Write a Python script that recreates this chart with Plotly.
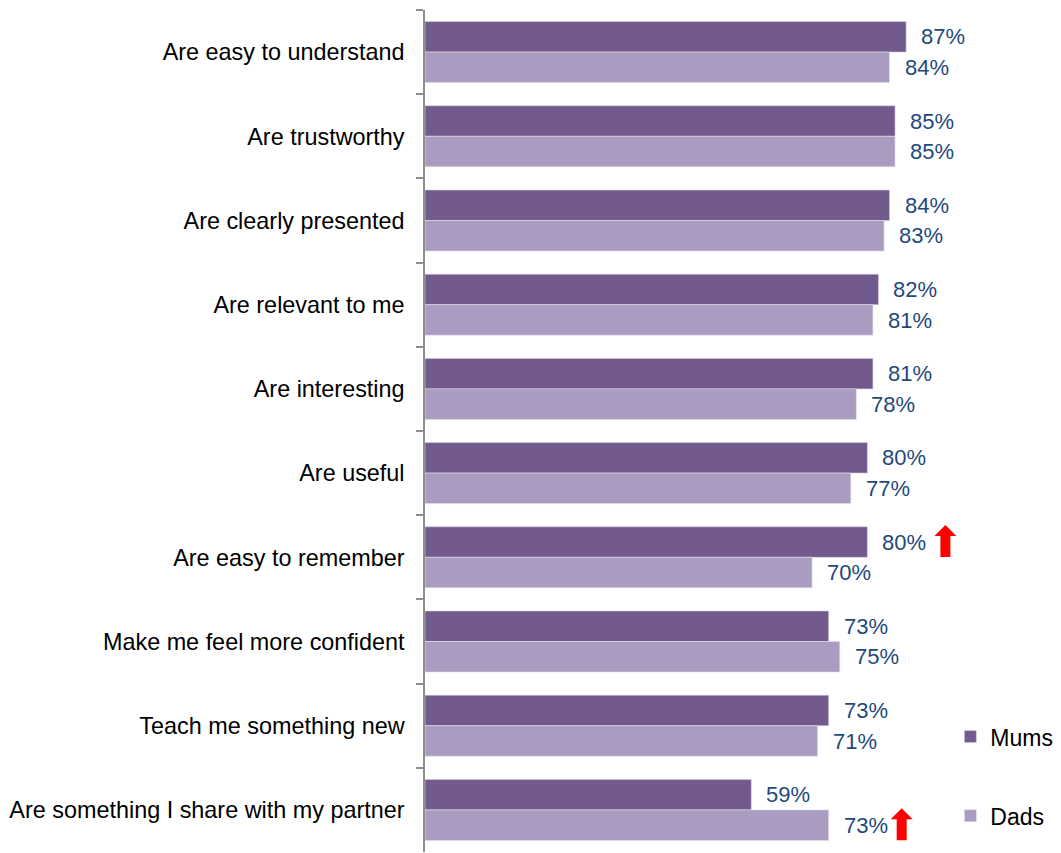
import plotly.graph_objects as go

categories = [
    "Are easy to understand",
    "Are trustworthy",
    "Are clearly presented",
    "Are relevant to me",
    "Are interesting",
    "Are useful",
    "Are easy to remember",
    "Make me feel more confident",
    "Teach me something new",
    "Are something I share with my partner",
]
mums = [87, 85, 84, 82, 81, 80, 80, 73, 73, 59]
dads = [84, 85, 83, 81, 78, 77, 70, 75, 71, 73]

# significant-difference arrows: (category, series)
arrows = [("Are easy to remember", "Mums"), ("Are something I share with my partner", "Dads")]

MUMS_COLOR = "#725A8E"
DADS_COLOR = "#AA9BC0"
LABEL_COLOR = "#1F497D"
FONT = "Liberation Sans, Arial, sans-serif"

fig = go.Figure()
fig.add_trace(go.Bar(
    y=categories, x=[v / 100 for v in mums], orientation="h", name="Mums",
    marker=dict(color=MUMS_COLOR, line=dict(color="#d8d2e2", width=0.6)),
    legend="legend", showlegend=True, hoverinfo="x+y",
))
fig.add_trace(go.Bar(
    y=categories, x=[v / 100 for v in dads], orientation="h", name="Dads",
    marker=dict(color=DADS_COLOR, line=dict(color="#e6e1ec", width=0.6)),
    legend="legend2", showlegend=True, hoverinfo="x+y",
))

BAR_SHIFT = 15.3
annotations = []
for series, vals, shift in (("Mums", mums, BAR_SHIFT), ("Dads", dads, -BAR_SHIFT)):
    for c, v in zip(categories, vals):
        annotations.append(dict(
            x=v / 100, y=c, xref="x", yref="y", text=f"{v}%", showarrow=False,
            xanchor="left", yanchor="middle", xshift=13, yshift=shift,
            font=dict(family=FONT, size=22, color=LABEL_COLOR),
        ))

shapes = []
arrow_offsets = [78, 73]
for (cat, series), off in zip(arrows, arrow_offsets):
    vals = mums if series == "Mums" else dads
    v = vals[categories.index(cat)] / 100
    cy = BAR_SHIFT if series == "Mums" else -BAR_SHIFT
    top, bot, hb = cy + 17, cy - 15, cy + 6
    path = (f"M {off-5},{bot} L {off+5},{bot} L {off+5},{hb} L {off+11},{hb} "
            f"L {off},{top} L {off-11},{hb} L {off-5},{hb} Z")
    shapes.append(dict(
        type="path", xref="x", yref="y", xsizemode="pixel", ysizemode="pixel",
        xanchor=v, yanchor=cat, path=path,
        fillcolor="#FF0000", line=dict(width=0),
    ))

fig.update_layout(
    width=1053, height=845,
    margin=dict(l=417, r=83, t=2, b=1, autoexpand=False),
    paper_bgcolor="white", plot_bgcolor="white",
    barmode="group", bargap=0.275, bargroupgap=0,
    showlegend=True,
    font=dict(family=FONT, size=23, color="black"),
    xaxis=dict(range=[0, 1], visible=False, showgrid=False, zeroline=False, automargin=False),
    yaxis=dict(
        autorange="reversed", showgrid=False, zeroline=False, automargin=False,
        showline=True, linecolor="#8C8C8C", linewidth=1.5,
        ticks="outside", ticklen=7, tickcolor="#8C8C8C", tickwidth=1.5,
        tickson="boundaries", ticklabelstandoff=14,
        tickfont=dict(family=FONT, size=23.4, color="black"),
    ),
    legend=dict(
        x=0.950, y=0.137, xanchor="left", yanchor="middle",
        font=dict(family=FONT, size=23, color="black"),
        bgcolor="rgba(0,0,0,0)", itemwidth=30,
    ),
    legend2=dict(
        x=0.950, y=0.043, xanchor="left", yanchor="middle",
        font=dict(family=FONT, size=23, color="black"),
        bgcolor="rgba(0,0,0,0)", itemwidth=30,
    ),
    annotations=annotations,
    shapes=shapes,
)

fig.write_html("out.html")
